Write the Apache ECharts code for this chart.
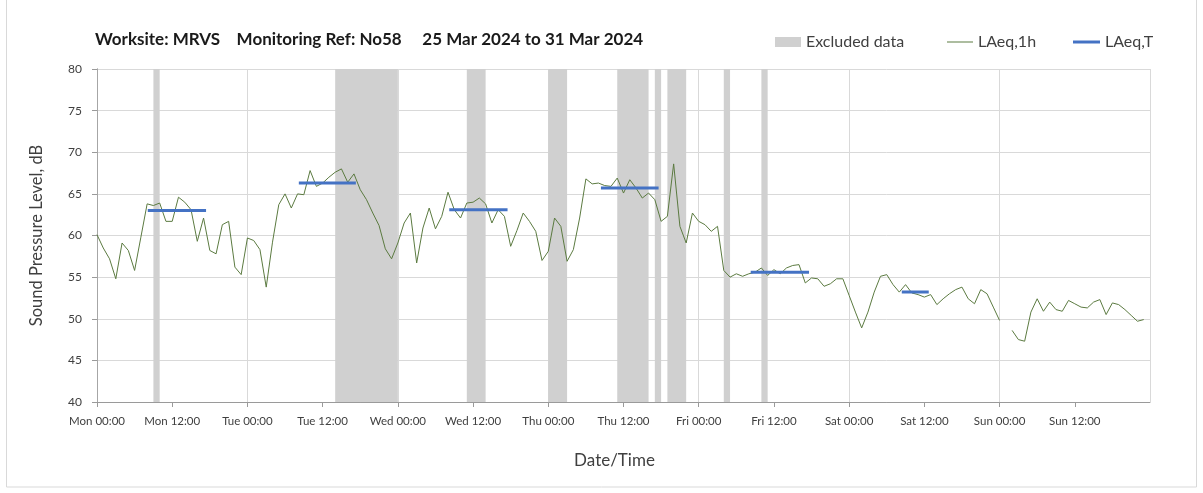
<!DOCTYPE html>
<html>
<head>
<meta charset="utf-8">
<script src="https://cdn.jsdelivr.net/npm/echarts@6/dist/echarts.min.js"></script>
<style>
  html, body { margin: 0; padding: 0; background: #fff; }
  #chart { width: 1203px; height: 493px; }
</style>
</head>
<body>
<div id="chart"></div>
<script>
// x values are hours since Mon 25 Mar 2024 00:00
var xTickLabels = ['Mon 00:00', 'Mon 12:00', 'Tue 00:00', 'Tue 12:00', 'Wed 00:00', 'Wed 12:00',
  'Thu 00:00', 'Thu 12:00', 'Fri 00:00', 'Fri 12:00', 'Sat 00:00', 'Sat 12:00', 'Sun 00:00', 'Sun 12:00'];

// LAeq,1h, one value per hour ('-' = no data)
var laeq1h = [
  60.1, 58.5, 57.2, 54.8, 59.1, 58.2, 55.8, 59.8, 63.8, 63.6, 63.9, 61.7,
  61.7, 64.6, 64.0, 63.1, 59.3, 62.1, 58.2, 57.8, 61.3, 61.7, 56.2, 55.3,
  59.7, 59.4, 58.3, 53.8, 59.2, 63.7, 65.0, 63.3, 65.0, 64.9, 67.8, 65.9,
  66.3, 67.0, 67.6, 68.0, 66.4, 67.4, 65.5, 64.3, 62.7, 61.2, 58.4, 57.2,
  59.1, 61.5, 62.7, 56.7, 60.9, 63.3, 60.8, 62.3, 65.2, 63.1, 62.1, 63.9,
  64.0, 64.5, 63.8, 61.5, 63.1, 62.3, 58.7, 60.6, 62.7, 61.7, 60.5, 57.0,
  58.1, 62.1, 61.1, 56.9, 58.3, 62.1, 66.8, 66.2, 66.3, 66.0, 65.9, 66.9,
  65.1, 66.7, 65.7, 64.5, 65.1, 64.3, 61.7, 62.3, 68.6, 61.1, 59.1, 62.7,
  61.7, 61.3, 60.5, 61.1, 55.8, 55.0, 55.4, 55.1, 55.4, 55.6, 56.1, 55.2,
  55.9, 55.4, 56.1, 56.4, 56.5, 54.3, 54.9, 54.8, 53.9, 54.2, 54.8, 54.8,
  52.8, 50.8, 48.9, 50.8, 53.2, 55.1, 55.3, 54.1, 53.2, 54.1, 53.1, 52.9,
  52.6, 52.9, 51.7, 52.4, 53.0, 53.5, 53.8, 52.4, 51.8, 53.5, 53.0, 51.4,
  49.8, '-', 48.6, 47.5, 47.3, 50.8, 52.4, 50.9, 52.0, 51.1, 50.9, 52.2,
  51.8, 51.4, 51.3, 52.0, 52.3, 50.5, 51.9, 51.7, 51.1, 50.4, 49.7, 49.9
];

// LAeq,T periods
var ltStart = [8.1, 32.2, 56.2, 80.4, 104.3, 128.4];
var ltEnd = [17.4, 41.3, 65.5, 89.6, 113.6, 132.7];
var ltLevel = [63.0, 66.3, 63.1, 65.7, 55.6, 53.2];

// excluded periods
var exStart = [9, 38, 59, 72, 83, 89, 91, 100, 106];
var exEnd = [10, 48, 62, 75, 88, 90, 94, 101, 107];

var FONT = 'Lato';
var GREEN = '#5b7a40';
var BLUE = '#4472c4';

var chart = echarts.init(document.getElementById('chart'));

var lineData = laeq1h.map(function (v, i) { return [i, v]; });

var bands = exStart.map(function (s, i) {
  return [{ xAxis: s }, { xAxis: exEnd[i] }];
});

var series = [
  {
    name: 'Excluded data',
    type: 'line',
    data: [],
    symbol: 'none',
    itemStyle: { color: '#d0d0d0' },
    markArea: {
      silent: true,
      itemStyle: { color: '#d0d0d0' },
      data: bands
    }
  },
  {
    name: 'LAeq,1h',
    type: 'line',
    data: lineData,
    symbol: 'none',
    connectNulls: false,
    lineStyle: { color: GREEN, width: 1 },
    itemStyle: { color: GREEN },
    z: 3
  }
];

ltStart.forEach(function (s, i) {
  series.push({
    name: 'LAeq,T',
    type: 'line',
    data: [[s, ltLevel[i]], [ltEnd[i], ltLevel[i]]],
    symbol: 'none',
    lineStyle: { color: BLUE, width: 3 },
    itemStyle: { color: BLUE },
    z: 4
  });
});

var legendText = { fontFamily: FONT, fontSize: 16, color: '#404040' };

var option = {
  animation: false,
  textStyle: { fontFamily: FONT },
  title: {
    text: 'Worksite: MRVS    Monitoring Ref: No58     25 Mar 2024 to 31 Mar 2024',
    left: 95,
    top: 31,
    padding: 0,
    textStyle: { fontFamily: FONT, fontSize: 17, fontWeight: 'bold', color: '#1a1a1a' }
  },
  legend: [
    { left: 775, top: 34, padding: 0, itemWidth: 26, itemHeight: 10, itemGap: 5, textStyle: legendText,
      data: [{ name: 'Excluded data', icon: 'rect' }] },
    { left: 947, top: 34, padding: 0, itemWidth: 26, itemHeight: 1, textStyle: legendText,
      data: [{ name: 'LAeq,1h', icon: 'rect' }] },
    { left: 1073, top: 34, padding: 0, itemWidth: 27, itemHeight: 3, textStyle: legendText,
      data: [{ name: 'LAeq,T', icon: 'rect' }] }
  ],
  grid: { left: 97, right: 53, top: 69, bottom: 91 },
  xAxis: [
    {
      type: 'value',
      min: 0,
      max: 168,
      interval: 12,
      name: 'Date/Time',
      nameLocation: 'middle',
      nameGap: 50,
      nameTextStyle: { fontFamily: FONT, fontSize: 17, color: '#404040', padding: [0, 18, 0, 0] },
      axisLine: { lineStyle: { color: '#9a9a9a' } },
      axisTick: { length: 5, lineStyle: { color: '#9a9a9a' } },
      axisLabel: {
        margin: 13,
        fontFamily: FONT,
        fontSize: 11.5,
        color: '#404040',
        showMaxLabel: false,
        formatter: function (v) { return xTickLabels[Math.round(v / 12)] || ''; }
      },
      splitLine: { show: false }
    },
    {
      type: 'value',
      min: 0,
      max: 168,
      interval: 24,
      axisLine: { show: false },
      axisTick: { show: false },
      axisLabel: { show: false },
      splitLine: { show: true, lineStyle: { color: '#d9d9d9' } }
    }
  ],
  yAxis: [
    {
      type: 'value',
      min: 40,
      max: 80,
      interval: 5,
      name: 'Sound Pressure Level, dB',
      nameLocation: 'middle',
      nameGap: 52,
      nameTextStyle: { fontFamily: FONT, fontSize: 16.5, color: '#404040' },
      axisLine: { show: true, lineStyle: { color: '#9a9a9a' } },
      axisTick: { show: true, length: 5, lineStyle: { color: '#9a9a9a' } },
      axisLabel: { margin: 15, fontFamily: FONT, fontSize: 12, color: '#404040' },
      splitLine: { lineStyle: { color: '#d9d9d9' } }
    },
    {
      type: 'value',
      min: 40,
      max: 80,
      interval: 5,
      position: 'right',
      axisLine: { show: true, lineStyle: { color: '#a6a6a6' } },
      axisTick: { show: false },
      axisLabel: { show: false },
      splitLine: { show: false }
    }
  ],
  graphic: [
    {
      type: 'rect',
      silent: true,
      shape: { x: 6.5, y: -1, width: 1190, height: 488 },
      style: { fill: 'none', stroke: '#d9d9d9', lineWidth: 1 }
    }
  ],
  series: series
};

chart.setOption(option);
</script>
</body>
</html>
